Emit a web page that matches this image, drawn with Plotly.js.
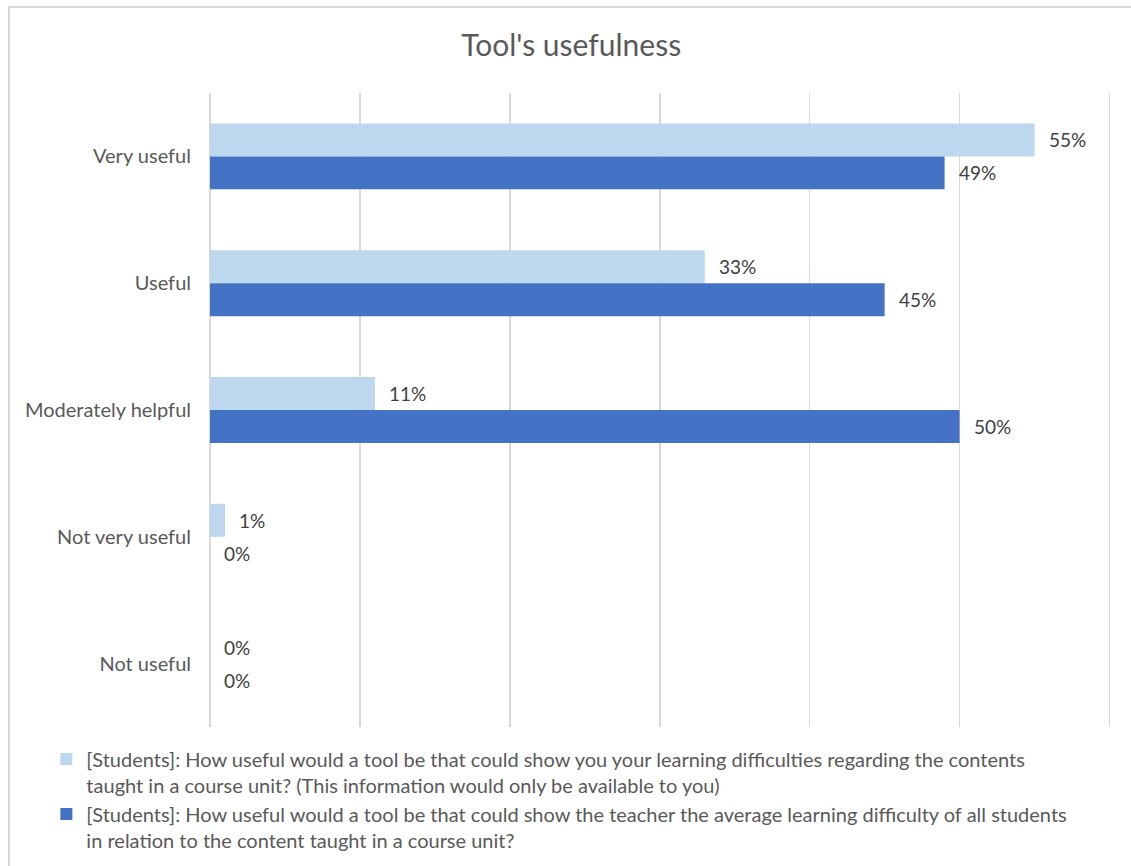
<!DOCTYPE html>
<html><head><meta charset="utf-8">
<script src="https://cdn.plot.ly/plotly-3.0.1.min.js"></script>
<style>
html,body{margin:0;padding:0;background:#fff;}
#frame{position:absolute;left:8px;top:6px;width:1125px;height:864px;border:2px solid #d9d9d9;box-sizing:border-box;}
#chart{position:absolute;left:0;top:0;width:1131px;height:866px;}
</style></head>
<body>
<div id="frame"></div>
<div id="chart"></div>
<script>
const categories = ["Very useful", "Useful", "Moderately helpful", "Not very useful", "Not useful"];
const selfValues = [55, 33, 11, 1, 0];
const teacherValues = [49, 45, 50, 0, 0];
const seriesNames = [
  "[Students]: How useful would a tool be that could show you your learning difficulties regarding the contents<br>taught in a course unit? (This information would only be available to you)",
  "[Students]: How useful would a tool be that could show the teacher the average learning difficulty of all students<br>in relation to the content taught in a course unit?"
];
const colors = ["#BDD7EE", "#4472C4"];

const font = "Lato, 'Open Sans', sans-serif";
const traces = [
  {type:"bar", orientation:"h", y:categories, x:selfValues, name:seriesNames[0], marker:{color:colors[0]}, hoverinfo:"x"},
  {type:"bar", orientation:"h", y:categories, x:teacherValues, name:seriesNames[1], marker:{color:colors[1]}, hoverinfo:"x"}
];
const annotations = [];
[selfValues, teacherValues].forEach((vals, si) => {
  vals.forEach((v, i) => {
    annotations.push({x:v, y:categories[i], xref:"x", yref:"y", text:v+"%", showarrow:false,
      xanchor:"left", yanchor:"middle", xshift:12, yshift: si===0 ? 16.5 : -16.5,
      font:{family:font, size:19, color:"#404040"}});
  });
});

const layout = {
  width:1131, height:866,
  margin:{l:210, r:20, t:93, b:139, autoexpand:false},
  paper_bgcolor:"rgba(0,0,0,0)", plot_bgcolor:"rgba(0,0,0,0)",
  title:{text:"Tool's usefulness", x:0.505, xanchor:"center", y:0.948, yanchor:"middle", font:{family:font, size:30, color:"#595959"}},
  barmode:"group", bargap:0.48, bargroupgap:0,
  xaxis:{range:[0,60.1], tickvals:[10,20,30,40,50,60], showticklabels:false, showgrid:true, gridcolor:"#d9d9d9", gridwidth:1.5, zeroline:true, zerolinecolor:"#d9d9d9", zerolinewidth:1.5, fixedrange:true},
  yaxis:{autorange:"reversed", type:"category", showgrid:false, zeroline:false, ticks:"", ticklabelstandoff:18, tickfont:{family:font, size:20, color:"#595959"}, fixedrange:true},
  showlegend:true,
  legend:{orientation:"v", xref:"container", yref:"container", x:0.041, xanchor:"left", y:0.146, yanchor:"top", valign:"top", font:{family:font, size:20, color:"#595959"}, tracegroupgap:0, itemwidth:30, traceorder:"normal"},
  annotations:annotations
};
Plotly.newPlot("chart", traces, layout, {displayModeBar:false, staticPlot:true});
</script>
</body></html>
